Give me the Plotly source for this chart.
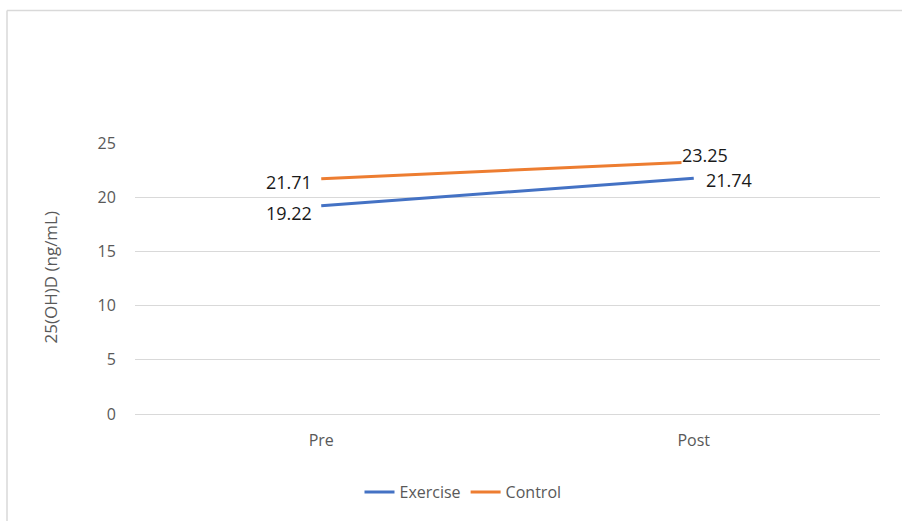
import plotly.graph_objects as go

# Serum 25(OH)D before and after the intervention
phases = ["Pre", "Post"]
exercise = [19.22, 21.74]
control = [21.71, 23.25]
y_ticks = [0, 5, 10, 15, 20, 25]

W, H = 902, 521
L, R, T, B = 135, 22, 143, 104
plot_w = W - L - R
plot_h = H - T - B


def px_x(px):
    return (px - L) / plot_w


def px_y(py):
    return (H - B - py) / plot_h


BLUE = "#4472C4"
ORANGE = "#ED7D31"
GRID = "#d9d9d9"
TXT = "#595959"
FONT = "Open Sans"

fig = go.Figure()
fig.add_trace(go.Scatter(x=phases, y=exercise, name="Exercise", mode="lines",
                         line=dict(color=BLUE, width=3)))
fig.add_trace(go.Scatter(x=phases, y=control, name="Control", mode="lines",
                         line=dict(color=ORANGE, width=3)))

# data labels: (category, value, anchor, xshift, yshift)
label_specs = [
    (phases[0], control[0], "right", -8, -3),
    (phases[0], exercise[0], "right", -8, -7),
    (phases[1], control[1], "left", -13, 7),
    (phases[1], exercise[1], "left", 11, -2),
]
for cat, val, anchor, xs, ys in label_specs:
    fig.add_annotation(x=cat, y=val, text=f"{val:.2f}", showarrow=False,
                       xanchor=anchor, yanchor="middle", xshift=xs, yshift=ys,
                       bgcolor="white", borderpad=0,
                       font=dict(family=FONT, size=18, color="#1a1a1a"))

# y-axis title
fig.add_annotation(x=px_x(51), y=px_y(279), xref="paper", yref="paper",
                   text="25(OH)D (ng/mL)", textangle=-90, showarrow=False,
                   xanchor="center", yanchor="middle",
                   font=dict(family=FONT, size=17, color=TXT))

# chart area frame (top and left edges)
fig.add_shape(type="line", xref="paper", yref="paper",
              x0=px_x(7), x1=px_x(W + 5), y0=px_y(9), y1=px_y(9),
              line=dict(color=GRID, width=1.5))
fig.add_shape(type="line", xref="paper", yref="paper",
              x0=px_x(7), x1=px_x(7), y0=px_y(9), y1=px_y(H + 5),
              line=dict(color=GRID, width=1.5))

fig.update_layout(
    width=W, height=H,
    margin=dict(l=L, r=R, t=T, b=B),
    paper_bgcolor="white", plot_bgcolor="white",
    font=dict(family=FONT, size=16, color=TXT),
    showlegend=True,
    legend=dict(orientation="h", x=px_x(463), y=px_y(496),
                xanchor="center", yanchor="middle",
                font=dict(family=FONT, size=16, color=TXT),
                itemwidth=30, tracegroupgap=0),
    xaxis=dict(type="category", range=[-0.5, 1.5], showgrid=False,
               showline=False, zeroline=False, ticks="outside",
               ticklen=12, tickcolor="white",
               tickfont=dict(family=FONT, size=16, color=TXT)),
    yaxis=dict(range=[0, 25], tickvals=y_ticks, showgrid=True,
               gridcolor=GRID, gridwidth=1, zeroline=True,
               zerolinecolor=GRID, zerolinewidth=1, showline=False,
               ticks="outside", ticklen=15, tickcolor="white",
               tickfont=dict(family=FONT, size=16, color=TXT)),
)

fig.write_html("out.html")
